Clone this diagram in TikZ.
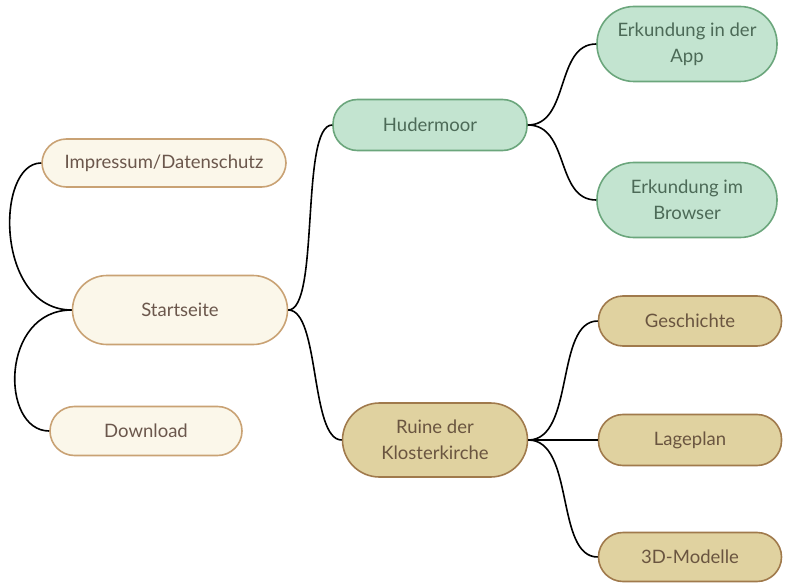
\documentclass[tikz,border=0pt]{standalone}
\usepackage{fontspec}
\setmainfont{Lato}
\usetikzlibrary{positioning}
\definecolor{creamfill}{HTML}{FBF7EA}
\definecolor{creamline}{HTML}{C9A274}
\definecolor{creamtext}{HTML}{6B574C}
\definecolor{greenfill}{HTML}{C3E4D0}
\definecolor{greenline}{HTML}{6BA67C}
\definecolor{greentext}{HTML}{4C6A57}
\definecolor{olivefill}{HTML}{E0D2A0}
\definecolor{oliveline}{HTML}{A07A4C}
\definecolor{olivetext}{HTML}{6A5540}

\begin{document}
\begin{tikzpicture}[x=1pt, y=-1pt,
    every node/.style = {font=\fontsize{18.5}{26}\selectfont, align=center, line width=1.6pt},
        pill/.style = {rectangle, draw, minimum width=#1, inner sep=0pt},
      cream/.style = {fill=creamfill, draw=creamline, text=creamtext},
      green/.style = {fill=greenfill, draw=greenline, text=greentext},
      olive/.style = {fill=olivefill, draw=oliveline, text=olivetext},
        low/.style = {minimum height=49pt, rounded corners=24.5pt},
       high/.style = {minimum height=74pt, rounded corners=37pt},
       link/.style = {line width=1.6pt, black}
                        ]
\useasboundingbox (0,0) rectangle (790,583);
\node (start)  [pill=215pt, cream, high, minimum height=69pt, rounded corners=34.5pt] at (180,310) {Startseite};
\node (impr)   [pill=244pt, cream, low, minimum height=48pt] at (164,163) {Impressum/Datenschutz};
\node (down)   [pill=192pt, cream, low] at (146,431) {Download};
\node (moor)   [pill=194pt, green, low, minimum height=51pt] at (430,125) {Hudermoor};
\node (ruine)  [pill=185pt, olive, high] at (435,440) {Ruine der\\Klosterkirche};
\node (app)    [pill=180pt, green, high, minimum height=75pt] at (687,44) {Erkundung in der\\App};
\node (browse) [pill=180pt, green, high, minimum height=75pt] at (687,200) {Erkundung im\\Browser};
\node (hist)   [pill=183pt, olive, low, minimum height=50pt] at (690,321) {Geschichte};
\node (plan)   [pill=183pt, olive, low, minimum height=51pt] at (690,440) {Lageplan};
\node (model)  [pill=183pt, olive, low] at (690,557) {3D-Modelle};
\draw[link] (start.west) .. controls (-5,310) and (-5,163) .. (impr.west);
\draw[link] (start.west) .. controls (0,310) and (0,431) .. (down.west);
\draw[link] (start.east) .. controls (320,310) and (300,125) .. (moor.west);
\draw[link] (start.east) .. controls (320,310) and (310,440) .. (ruine.west);
\draw[link] (moor.east) .. controls (570,125) and (555,44) .. (app.west);
\draw[link] (moor.east) .. controls (570,125) and (555,200) .. (browse.west);
\draw[link] (ruine.east) .. controls (575,440) and (555,321) .. (hist.west);
\draw[link] (ruine.east) -- (plan.west);
\draw[link] (ruine.east) .. controls (575,440) and (555,557) .. (model.west);
\end{tikzpicture}
\end{document}
